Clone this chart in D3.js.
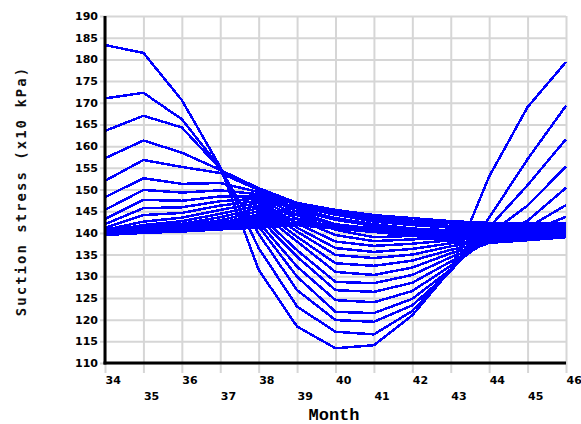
<!DOCTYPE html>
<html>
<head>
<meta charset="utf-8">
<script src="https://cdn.jsdelivr.net/npm/d3@7"></script>
<style>
  body { margin: 0; background: #fff; }
  svg { display: block; }
</style>
</head>
<body>
<svg id="chart" width="581" height="424"></svg>
<script>
// Months on the horizontal axis
const months = [34, 35, 36, 37, 38, 39, 40, 41, 42, 43, 44, 45, 46];
const evenMonthLabels = [34, 36, 38, 40, 42, 44, 46];
const oddMonthLabels = [35, 37, 39, 41, 43, 45];
// Suction stress tick values (x10 kPa)
const stressTicks = [110, 115, 120, 125, 130, 135, 140, 145, 150, 155, 160, 165, 170, 175, 180, 185, 190];

// Suction stress at each month, one series per curve
const curve01 = [183.3, 181.5, 170.6, 155.2, 131.5, 118.4, 113.4, 114.1, 121.0, 131.5, 153.0, 169.0, 179.4];
const curve02 = [171.0, 172.3, 166.2, 155.0, 136.5, 123.0, 117.2, 116.6, 122.0, 131.3, 143.5, 157.0, 169.3];
const curve03 = [163.5, 167.0, 164.3, 154.8, 139.8, 126.8, 119.9, 119.5, 123.3, 131.2, 141.3, 151.0, 161.6];
const curve04 = [157.2, 161.3, 158.5, 154.5, 150.3, 146.9, 145.3, 144.1, 143.4, 142.7, 142.3, 141.9, 141.8];
const curve05 = [152.0, 156.8, 155.2, 153.8, 149.9, 146.3, 144.5, 143.0, 142.2, 141.6, 141.3, 141.1, 141.0];
const curve06 = [148.2, 152.6, 151.3, 151.5, 149.4, 145.6, 143.4, 142.0, 141.0, 140.6, 140.5, 140.5, 140.4];
const curve07 = [145.3, 149.9, 149.3, 149.8, 148.9, 144.9, 142.0, 141.0, 140.0, 139.9, 140.0, 140.0, 139.8];
const curve08 = [143.2, 147.6, 147.4, 148.4, 148.4, 144.1, 140.7, 139.0, 139.3, 139.4, 139.6, 139.7, 139.6];
const curve09 = [142.0, 145.7, 145.9, 147.3, 147.9, 143.2, 139.5, 138.1, 138.5, 138.9, 139.3, 139.5, 139.7];
const curve10 = [141.2, 144.1, 144.6, 146.3, 147.4, 142.2, 138.0, 137.0, 137.5, 138.3, 138.9, 139.3, 139.9];
const curve11 = [140.7, 142.6, 143.5, 145.3, 146.9, 141.2, 136.5, 135.6, 136.3, 137.6, 138.5, 139.2, 140.2];
const curve12 = [140.4, 141.8, 142.7, 144.4, 146.3, 140.3, 134.9, 134.2, 135.0, 136.9, 138.2, 139.2, 140.6];
const curve13 = [140.2, 141.4, 142.1, 143.6, 145.7, 139.1, 133.0, 132.4, 133.6, 136.1, 137.9, 139.3, 141.2];
const curve14 = [140.1, 141.1, 141.6, 142.9, 145.0, 138.0, 131.0, 130.3, 132.0, 135.3, 137.7, 139.6, 142.2];
const curve15 = [140.0, 140.9, 141.3, 142.3, 144.3, 136.0, 128.7, 128.4, 130.3, 134.4, 137.7, 140.2, 143.7];
const curve16 = [140.0, 140.7, 141.0, 141.8, 143.5, 134.5, 126.8, 126.4, 128.5, 133.4, 138.0, 141.2, 146.4];
const curve17 = [139.9, 140.6, 140.8, 141.4, 142.5, 132.2, 124.5, 124.0, 126.6, 132.4, 138.6, 142.8, 150.4];
const curve18 = [139.6, 140.4, 140.6, 141.1, 141.5, 129.9, 121.8, 121.5, 124.8, 131.6, 139.7, 146.3, 155.3];
// Deepest curves, packed in the narrow band around 140-146
const curve19 = [141.0, 141.3, 141.6, 142.0, 143.8, 145.9, 144.6, 143.3, 142.5, 142.4, 142.2, 142.2, 142.2];
const curve20 = [140.8, 141.0, 141.2, 141.6, 143.0, 146.6, 145.0, 143.6, 142.8, 142.2, 141.8, 141.5, 141.4];
const curve21 = [140.5, 140.8, 141.0, 141.5, 142.6, 146.0, 144.2, 142.6, 141.8, 141.2, 140.9, 140.8, 140.8];
const curve22 = [140.3, 140.6, 140.9, 141.3, 142.2, 145.2, 143.0, 141.6, 140.8, 140.4, 140.2, 140.2, 140.3];
const curve23 = [140.1, 140.4, 140.7, 141.2, 141.9, 144.3, 141.8, 141.1, 140.4, 139.8, 139.7, 139.8, 140.0];
const curve24 = [139.9, 140.3, 140.6, 141.0, 141.6, 143.3, 141.4, 140.8, 140.2, 139.3, 139.0, 139.2, 139.4];
const curve25 = [139.7, 140.2, 140.4, 140.9, 141.4, 142.5, 141.2, 140.5, 139.8, 138.7, 138.4, 138.7, 139.1];
const curve26 = [139.5, 140.0, 140.3, 140.8, 141.2, 141.8, 141.0, 140.2, 139.4, 138.0, 137.7, 138.3, 139.0];

const seriesList = [curve01, curve02, curve03, curve04, curve05, curve06, curve07, curve08, curve09,
                    curve10, curve11, curve12, curve13, curve14, curve15, curve16, curve17, curve18,
                    curve19, curve20, curve21, curve22, curve23, curve24, curve25, curve26];

const svg = d3.select("#chart");
const plotLeft = 105, plotRight = 566, plotTop = 16, plotBottom = 363;

const x = d3.scaleLinear().domain([34, 46]).range([plotLeft, plotRight]);
const y = d3.scaleLinear().domain([110, 190]).range([plotBottom, plotTop]);

// Grid: vertical lines reach a little below the axis, horizontal ones a little left of it
const gridColor = "#d6d6d6";
const xGrid = svg.append("g")
  .attr("transform", `translate(0,${plotBottom + 10})`)
  .call(d3.axisBottom(x).tickValues(months).tickSize(-(plotBottom + 10 - plotTop)).tickFormat(""));
xGrid.select(".domain").remove();
xGrid.selectAll("line").attr("stroke", gridColor).attr("stroke-width", 2);

const yGrid = svg.append("g")
  .attr("transform", `translate(${plotLeft - 5},0)`)
  .call(d3.axisLeft(y).tickValues(stressTicks).tickSize(-(plotRight - plotLeft + 5)).tickFormat(""));
yGrid.select(".domain").remove();
yGrid.selectAll("line").attr("stroke", gridColor).attr("stroke-width", 2);

// Curves
const line = d3.line()
  .x((d, i) => x(months[i]))
  .y(d => y(d));

svg.append("g")
  .selectAll("path")
  .data(seriesList)
  .join("path")
  .attr("d", line)
  .attr("fill", "none")
  .attr("stroke", "#0000ff")
  .attr("stroke-width", 2.5)
  .attr("stroke-linejoin", "round")
  .attr("shape-rendering", "crispEdges");

// Axis lines
svg.append("line")
  .attr("x1", plotLeft).attr("x2", plotLeft)
  .attr("y1", plotTop).attr("y2", plotBottom + 1.5)
  .attr("stroke", "#000").attr("stroke-width", 3);
svg.append("line")
  .attr("x1", plotLeft - 1.5).attr("x2", plotRight)
  .attr("y1", plotBottom).attr("y2", plotBottom)
  .attr("stroke", "#000").attr("stroke-width", 3);

const tickFont = "'DejaVu Sans', Verdana, sans-serif";

// Y tick labels
const yLabels = svg.append("g")
  .attr("transform", `translate(${plotLeft - 7},0)`)
  .call(d3.axisLeft(y).tickValues(stressTicks).tickSize(0).tickPadding(0));
yLabels.select(".domain").remove();
yLabels.selectAll("text")
  .attr("font-family", tickFont).attr("font-size", 11).attr("font-weight", "bold")
  .attr("fill", "#000");

// X tick labels on two staggered rows
function monthRow(values, rowY) {
  const g = svg.append("g")
    .attr("transform", `translate(0,${rowY})`)
    .call(d3.axisBottom(x).tickValues(values).tickSize(0).tickPadding(0));
  g.select(".domain").remove();
  g.selectAll("text")
    .attr("text-anchor", "start")
    .attr("dy", "0.32em")
    .attr("y", 0)
    .attr("font-family", tickFont).attr("font-size", 11).attr("font-weight", "bold")
    .attr("fill", "#000");
}
monthRow(evenMonthLabels, 380);
monthRow(oddMonthLabels, 396);

// Axis titles
svg.append("text")
  .attr("x", 334).attr("y", 420)
  .attr("text-anchor", "middle")
  .attr("font-family", "'Liberation Mono', 'Courier New', monospace")
  .attr("font-size", 17).attr("font-weight", "bold")
  .attr("fill", "#000")
  .text("Month");

svg.append("text")
  .attr("transform", "translate(26,191) rotate(-90)")
  .attr("text-anchor", "middle")
  .attr("font-family", "'DejaVu Sans Mono', monospace")
  .attr("font-size", 14).attr("font-weight", "bold")
  .attr("letter-spacing", 2)
  .attr("fill", "#111")
  .text("Suction stress (x10 kPa)");
</script>
</body>
</html>
